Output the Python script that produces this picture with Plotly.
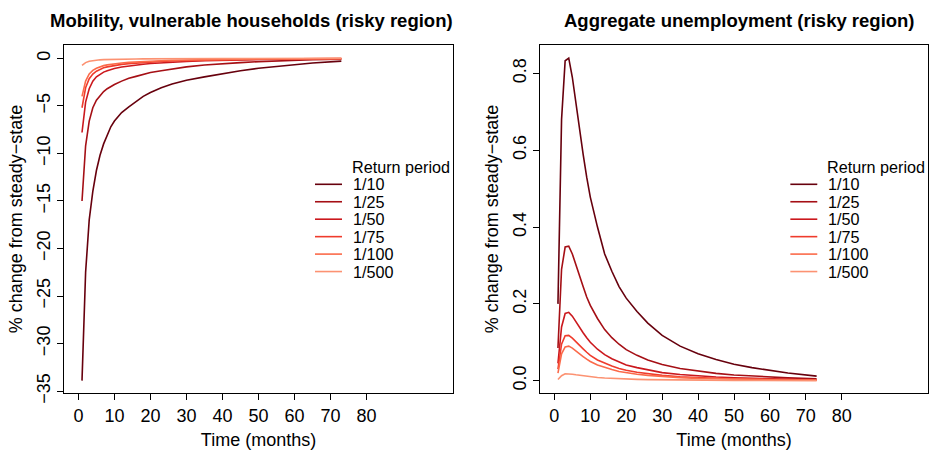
import plotly.graph_objects as go

# ---------------- data ----------------
months = [1, 2, 3, 4, 5, 6, 7, 8, 9, 10, 12, 14, 16, 18, 20, 23, 26, 30, 35, 40, 45, 50, 55, 60, 65, 73]
return_periods = ["1/10", "1/25", "1/50", "1/75", "1/100", "1/500"]
colors = ["#67000D", "#A50F15", "#CB181D", "#EF3B2C", "#FB6A4A", "#FC9272"]

# Mobility of vulnerable households (% change from steady-state)
mob_10 = [-33.9, -22.5, -17.0, -14.0, -11.8, -10.2, -9.0, -8.0, -7.2, -6.6, -5.7, -5.1, -4.5, -4.0, -3.6,
          -3.1, -2.7, -2.3, -1.95, -1.6, -1.3, -1.05, -0.85, -0.65, -0.5, -0.3]
mob_25 = [-15.0, -9.2, -6.6, -5.2, -4.4, -3.9, -3.5, -3.2, -2.95, -2.75, -2.4, -2.1, -1.9, -1.7, -1.5,
          -1.3, -1.1, -0.9, -0.7, -0.55, -0.45, -0.35, -0.27, -0.2, -0.15, -0.1]
mob_50 = [-7.8, -4.6, -3.2, -2.4, -1.95, -1.65, -1.45, -1.3, -1.18, -1.08, -0.92, -0.8, -0.7, -0.62, -0.55,
          -0.47, -0.4, -0.33, -0.26, -0.2, -0.16, -0.13, -0.1, -0.08, -0.06, -0.04]
mob_75 = [-5.2, -3.1, -2.15, -1.65, -1.35, -1.15, -1.0, -0.9, -0.82, -0.75, -0.64, -0.56, -0.49, -0.43, -0.38,
          -0.32, -0.28, -0.23, -0.18, -0.14, -0.11, -0.09, -0.07, -0.055, -0.04, -0.03]
mob_100 = [-4.0, -2.4, -1.65, -1.27, -1.04, -0.88, -0.77, -0.69, -0.63, -0.58, -0.5, -0.43, -0.38, -0.33, -0.29,
           -0.25, -0.21, -0.17, -0.14, -0.11, -0.085, -0.07, -0.055, -0.04, -0.03, -0.02]
mob_500 = [-0.75, -0.45, -0.3, -0.23, -0.19, -0.16, -0.14, -0.125, -0.11, -0.1, -0.09, -0.08, -0.07, -0.06, -0.05,
           -0.045, -0.04, -0.03, -0.025, -0.02, -0.015, -0.012, -0.01, -0.008, -0.006, -0.004]

# Aggregate unemployment (% change from steady-state)
unemp_10 = [0.20, 0.68, 0.833, 0.84, 0.79, 0.72, 0.655, 0.59, 0.53, 0.478, 0.40, 0.33, 0.285, 0.245, 0.215,
            0.18, 0.15, 0.118, 0.09, 0.07, 0.055, 0.043, 0.034, 0.026, 0.02, 0.012]
unemp_25 = [0.085, 0.29, 0.348, 0.35, 0.33, 0.30, 0.272, 0.245, 0.218, 0.196, 0.162, 0.133, 0.112, 0.095, 0.081,
            0.066, 0.054, 0.042, 0.032, 0.025, 0.019, 0.015, 0.012, 0.0095, 0.0075, 0.005]
unemp_50 = [0.045, 0.14, 0.175, 0.178, 0.168, 0.153, 0.139, 0.125, 0.112, 0.1, 0.082, 0.068, 0.057, 0.048, 0.041,
            0.034, 0.028, 0.021, 0.016, 0.012, 0.0095, 0.0075, 0.006, 0.0047, 0.0037, 0.0025]
unemp_75 = [0.03, 0.095, 0.117, 0.118, 0.111, 0.101, 0.092, 0.083, 0.074, 0.066, 0.054, 0.045, 0.038, 0.032, 0.027,
            0.022, 0.018, 0.014, 0.0105, 0.008, 0.0063, 0.005, 0.004, 0.0031, 0.0025, 0.0017]
unemp_100 = [0.02, 0.07, 0.088, 0.09, 0.085, 0.077, 0.07, 0.063, 0.056, 0.05, 0.041, 0.034, 0.029, 0.024, 0.021,
             0.017, 0.014, 0.011, 0.008, 0.006, 0.0048, 0.0038, 0.003, 0.0024, 0.0019, 0.0013]
unemp_500 = [0.003, 0.013, 0.018, 0.018, 0.017, 0.0155, 0.014, 0.0127, 0.0113, 0.0101, 0.0083, 0.0069, 0.0058,
             0.0049, 0.0042, 0.0034, 0.0028, 0.0022, 0.0016, 0.0012, 0.001, 0.0008, 0.0006, 0.0005, 0.0004, 0.0003]

mobility = [mob_10, mob_25, mob_50, mob_75, mob_100, mob_500]
unemployment = [unemp_10, unemp_25, unemp_50, unemp_75, unemp_100, unemp_500]

x_ticks = [0, 10, 20, 30, 40, 50, 60, 70, 80]
mob_ticks = [0, -5, -10, -15, -20, -25, -30, -35]
unemp_ticks = [0.0, 0.2, 0.4, 0.6, 0.8]

titles = ["Mobility, vulnerable households (risky region)", "Aggregate unemployment (risky region)"]
x_title = "Time (months)"
y_title = "% change from steady\u2212state"
legend_title = "Return period"

# ---------------- figure ----------------
W, H = 931, 450
FONT = "Liberation Sans, Arial, Helvetica, sans-serif"

fig = go.Figure()
for vals, lab, col in zip(mobility, return_periods, colors):
    fig.add_trace(go.Scatter(x=months, y=vals, mode="lines", name=lab, line=dict(color=col, width=1.6),
                             xaxis="x", yaxis="y", showlegend=False))
for vals, lab, col in zip(unemployment, return_periods, colors):
    fig.add_trace(go.Scatter(x=months, y=vals, mode="lines", name=lab, line=dict(color=col, width=1.6),
                             xaxis="x2", yaxis="y2", showlegend=False))

xdom1 = [64 / W, 453 / W]
xdom2 = [540 / W, 928 / W]
ydom = [1 - 393 / H, 1 - 45 / H]

axis_common = dict(showline=True, mirror=True, linecolor="black", linewidth=1, ticks="outside",
                   ticklen=6, tickcolor="black", showgrid=False, zeroline=False,
                   tickfont=dict(family=FONT, size=18, color="black"), automargin=False)

fig.update_layout(
    width=W, height=H, margin=dict(l=0, r=0, t=0, b=0),
    paper_bgcolor="white", plot_bgcolor="white",
    font=dict(family=FONT, color="black"),
    xaxis=dict(domain=xdom1, range=[-4, 104], tickvals=x_ticks, anchor="y",
               title=dict(text=x_title, font=dict(size=18), standoff=8), **axis_common),
    yaxis=dict(domain=ydom, range=[-35.2, 1.4], tickvals=mob_ticks, tickangle=-90, anchor="x",
               title=dict(text=y_title, font=dict(size=18), standoff=6), **axis_common),
    xaxis2=dict(domain=xdom2, range=[-4, 104], tickvals=x_ticks, anchor="y2",
                title=dict(text=x_title, font=dict(size=18), standoff=8), **axis_common),
    yaxis2=dict(domain=ydom, range=[-0.032, 0.874], tickvals=unemp_ticks, tickformat=".1f", tickangle=-90,
                anchor="x2", title=dict(text=y_title, font=dict(size=18), standoff=6), **axis_common),
)

annotations = []
shapes = []
# panel titles
for cx, t in zip([251, 739], titles):
    annotations.append(dict(text="<b>" + t + "</b>", x=cx / W, y=1 - 21 / H,
                            xref="paper", yref="paper", xanchor="center", yanchor="middle",
                            showarrow=False, font=dict(family=FONT, size=18.5, color="black")))

# legends (inside each panel, in axis-domain coordinates)
plot_h = 348.0
plot_w = 389.0
for xr, yr in [("x domain", "y domain"), ("x2 domain", "y2 domain")]:
    annotations.append(dict(text=legend_title, x=286 / plot_w, y=1 - 122 / plot_h, xref=xr, yref=yr,
                            xanchor="left", yanchor="middle", showarrow=False,
                            font=dict(family=FONT, size=16.2, color="black")))
    for i, (lab, col) in enumerate(zip(return_periods, colors)):
        yy = 1 - (139.3 + 17.45 * i) / plot_h
        shapes.append(dict(type="line", xref=xr, yref=yr, x0=251 / plot_w, x1=278 / plot_w, y0=yy, y1=yy,
                           line=dict(color=col, width=1.6)))
        annotations.append(dict(text=lab, x=287 / plot_w, y=yy, xref=xr, yref=yr,
                                xanchor="left", yanchor="middle", showarrow=False,
                                font=dict(family=FONT, size=16.2, color="black")))

fig.update_layout(annotations=annotations, shapes=shapes)
fig.write_html("out.html")
